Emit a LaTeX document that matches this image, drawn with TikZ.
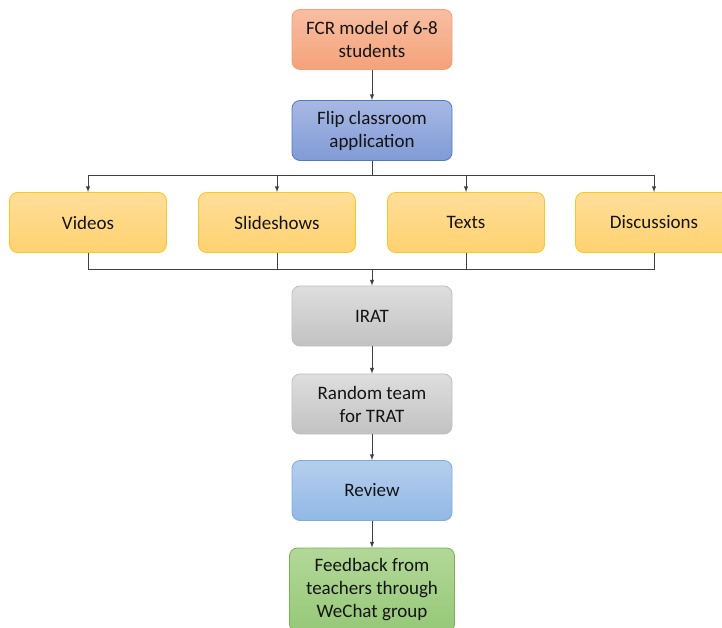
\documentclass[tikz,border=0pt]{standalone}
\usepackage{fontspec}
\setmainfont{Carlito}
\usepackage{tikz}
\usetikzlibrary{arrows, calc}

\definecolor{orangeT}{RGB}{248,190,162}
\definecolor{orangeB}{RGB}{244,162,122}
\definecolor{orangeD}{RGB}{242,160,120}
\definecolor{flipT}{RGB}{168,184,228}
\definecolor{flipB}{RGB}{128,155,214}
\definecolor{flipD}{RGB}{80,120,200}
\definecolor{yellowT}{RGB}{255,222,152}
\definecolor{yellowB}{RGB}{255,210,112}
\definecolor{yellowD}{RGB}{255,196,40}
\definecolor{grayT}{RGB}{222,222,222}
\definecolor{grayB}{RGB}{194,194,194}
\definecolor{grayD}{RGB}{190,190,190}
\definecolor{reviewT}{RGB}{182,206,236}
\definecolor{reviewB}{RGB}{145,184,230}
\definecolor{reviewD}{RGB}{125,172,222}
\definecolor{greenT}{RGB}{178,216,152}
\definecolor{greenB}{RGB}{150,200,120}
\definecolor{greenD}{RGB}{120,178,82}
\definecolor{linecol}{RGB}{64,64,64}
\definecolor{txt}{RGB}{20,20,20}

\tikzset{
    stage/.style={rounded corners=8pt, line width=0.8pt, minimum width=160pt,
        minimum height=60pt, align=center, text=txt,
        font=\fontsize{19pt}{23pt}\selectfont},
    orangebox/.style={stage, draw=orangeD, top color=orangeT, bottom color=orangeB},
    flipbox/.style={stage, draw=flipD, top color=flipT, bottom color=flipB},
    mediabox/.style={stage, minimum width=157pt, draw=yellowD, top color=yellowT, bottom color=yellowB},
    graybox/.style={stage, draw=grayD, top color=grayT, bottom color=grayB},
    reviewbox/.style={stage, draw=reviewD, top color=reviewT, bottom color=reviewB},
    greenbox/.style={stage, minimum width=165pt, minimum height=84pt, draw=greenD, top color=greenT, bottom color=greenB},
    link/.style={draw=linecol, line width=1pt},
    arr/.style={link, -latex}
}

\begin{document}
\begin{tikzpicture}[x=1pt, y=-1pt]
    \useasboundingbox (0,0) rectangle (722,628);
    \clip (0,0) rectangle (722,628);

    \node[orangebox] (fcr) at (372,39.5) {FCR model of 6-8\\students};
    \node[flipbox] (flip) at (372,130.5) {Flip classroom\\application};

    \node[mediabox] (videos) at (88,222.5) {Videos};
    \node[mediabox] (slides) at (277,222.5) {Slideshows};
    \node[mediabox] (texts) at (466,222.5) {Texts};
    \node[mediabox] (discuss) at (654,222.5) {Discussions};

    \node[graybox] (irat) at (372,316) {IRAT};
    \node[graybox] (trat) at (372,404) {Random team\\for TRAT};
    \node[reviewbox] (review) at (372,490.5) {Review};
    \node[greenbox] (feedback) at (372,590) {Feedback from\\teachers through\\WeChat group};

    \coordinate (split) at (372,176);
    \coordinate (join) at (372,269);

    % top part
    \draw[arr] (fcr) -- (flip);
    \draw[link] (flip) -- (split);
    \draw[arr] (split) -| (videos);
    \draw[arr] (split) -| (slides);
    \draw[arr] (split) -| (texts);
    \draw[arr] (split) -| (discuss);

    % join back
    \draw[link] (videos) |- (join);
    \draw[link] (slides) |- (join);
    \draw[link] (texts) |- (join);
    \draw[link] (discuss) |- (join);
    \draw[arr] (join) -- (irat);

    \draw[arr] (irat) -- (trat);
    \draw[arr] (trat) -- (review);
    \draw[arr] (review) -- (feedback);

\end{tikzpicture}
\end{document}
